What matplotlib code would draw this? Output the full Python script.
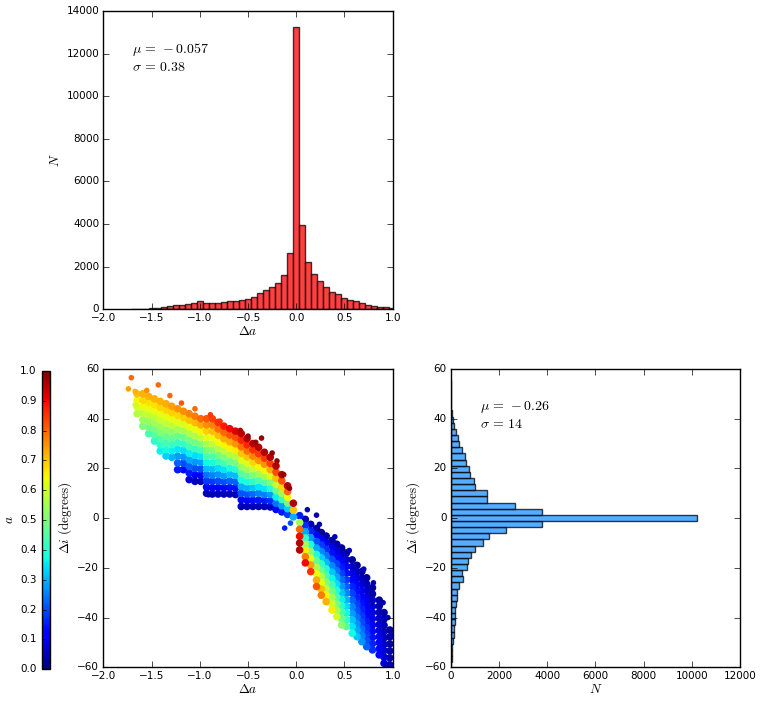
import matplotlib
matplotlib.use('Agg')
import matplotlib.pyplot as plt
import numpy as np

# histogram of delta a (counts per bin, left to right)
DA_LO = -1.715
DA_W = 0.0622
da_counts = [8, 16, 31, 62, 78, 125, 172, 187, 203, 234, 296, 374, 281, 312,
             312, 328, 374, 390, 452, 460, 580, 750, 890, 1031, 1219, 1594,
             2656, 13260, 3937, 2203, 1672, 1344, 1031, 812, 703, 516, 437,
             406, 312, 203, 172, 125, 109, 78, 55]

# histogram of delta i (counts per bin, bottom to top)
DI_LO = -60.43
DI_W = 2.47
di_counts = [14, 41, 69, 69, 97, 124, 138, 166, 166, 180, 221, 249, 276, 332,
             497, 456, 663, 705, 857, 995, 1327, 1603, 2280, 3773, 10200,
             3770, 2670, 1520, 1520, 1020, 950, 790, 760, 650, 590, 480, 360,
             290, 210, 150, 110, 50, 25, 12, 6, 3, 2]

# scatter, upper-left arm: one column per delta a value
ul_da = [-0.03, -0.09, -0.15, -0.21, -0.27, -0.33, -0.39, -0.45, -0.51, -0.57,
         -0.63, -0.69, -0.75, -0.81, -0.87, -0.93, -0.99, -1.05, -1.11, -1.17,
         -1.23, -1.29, -1.35, -1.41, -1.47, -1.53, -1.59, -1.65]
ul_di = [
    [0.5, 3.2, 6.0],
    [1.5, 3.8, 6.1, 8.4, 10.7, 13.0],
    [2.5, 5.0, 7.5, 10.0, 12.5, 15.0, 17.5],
    [3.5, 6.0, 8.5, 11.0, 13.5, 16.0, 18.5, 21.0],
    [4.5, 7.0, 9.5, 12.0, 14.5, 17.0, 19.5, 22.0, 24.5],
    [4.7, 7.1, 9.5, 12.0, 14.4, 16.8, 19.2, 21.7, 24.1, 26.5],
    [4.7, 7.3, 10.0, 12.6, 15.3, 17.9, 20.6, 23.2, 25.9, 28.5],
    [4.7, 7.2, 9.8, 12.3, 14.8, 17.4, 19.9, 22.4, 24.9, 27.5, 30.0],
    [4.7, 7.2, 9.7, 12.1, 14.6, 17.1, 19.6, 22.1, 24.6, 27.0, 29.5, 32.0],
    [4.7, 7.4, 10.0, 12.7, 15.4, 18.0, 20.7, 23.3, 26.0, 28.7, 31.3, 34.0],
    [9.5, 12.1, 14.6, 17.2, 19.7, 22.3, 24.8, 27.4, 29.9, 32.5, 35.0],
    [9.7, 12.3, 15.0, 17.6, 20.2, 22.9, 25.5, 28.1, 30.7, 33.4, 36.0],
    [9.7, 12.2, 14.7, 17.1, 19.6, 22.1, 24.6, 27.1, 29.6, 32.0, 34.5, 37.0],
    [9.7, 12.3, 14.9, 17.6, 20.2, 22.8, 25.4, 28.0, 30.6, 33.3, 35.9, 38.5],
    [9.7, 12.2, 14.8, 17.3, 19.8, 22.3, 24.9, 27.4, 29.9, 32.4, 34.9, 37.5, 40.0],
    [10.0, 12.5, 15.0, 17.5, 20.0, 22.5, 25.0, 27.5, 30.0, 32.5, 35.0, 37.5, 40.0],
    [14.8, 17.3, 19.8, 22.4, 24.9, 27.4, 29.9, 32.4, 35.0, 37.5, 40.0],
    [14.8, 17.4, 20.0, 22.7, 25.3, 27.9, 30.5, 33.1, 35.8, 38.4, 41.0],
    [15.5, 18.2, 20.8, 23.5, 26.1, 28.8, 31.4, 34.1, 36.7, 39.4, 42.0],
    [19.5, 22.1, 24.7, 27.3, 29.9, 32.6, 35.2, 37.8, 40.4, 43.0],
    [19.5, 22.2, 24.9, 27.7, 30.4, 33.1, 35.8, 38.6, 41.3, 44.0],
    [24.5, 27.1, 29.6, 32.2, 34.8, 37.3, 39.9, 42.4, 45.0],
    [25.0, 27.6, 30.3, 32.9, 35.5, 38.1, 40.8, 43.4, 46.0],
    [27.0, 29.5, 32.0, 34.5, 37.0, 39.5, 42.0, 44.5, 47.0],
    [31.0, 33.4, 35.9, 38.3, 40.7, 43.1, 45.6, 48.0],
    [34.0, 36.5, 39.0, 41.5, 44.0, 46.5, 49.0],
    [37.0, 39.6, 42.2, 44.8, 47.4, 50.0],
    [42.0, 44.7, 47.3, 50.0],
]
ul_a = [
    [0.3, 0.7, 0.95],
    [0.18, 0.33, 0.49, 0.64, 0.8, 0.95],
    [0.15, 0.28, 0.42, 0.55, 0.68, 0.82, 0.95],
    [0.12, 0.24, 0.36, 0.48, 0.59, 0.71, 0.83, 0.95],
    [0.06, 0.17, 0.28, 0.39, 0.5, 0.62, 0.73, 0.84, 0.95],
    [0.05, 0.15, 0.25, 0.35, 0.45, 0.55, 0.65, 0.75, 0.85, 0.95],
    [0.05, 0.15, 0.25, 0.35, 0.45, 0.55, 0.65, 0.75, 0.85, 0.95],
    [0.05, 0.14, 0.23, 0.32, 0.41, 0.5, 0.59, 0.68, 0.77, 0.86, 0.95],
    [0.05, 0.13, 0.21, 0.30, 0.38, 0.46, 0.54, 0.62, 0.70, 0.79, 0.87, 0.95],
    [0.05, 0.13, 0.21, 0.30, 0.38, 0.46, 0.54, 0.62, 0.70, 0.79, 0.87, 0.95],
    [0.05, 0.14, 0.22, 0.31, 0.4, 0.49, 0.57, 0.66, 0.75, 0.83, 0.92],
    [0.05, 0.14, 0.22, 0.31, 0.39, 0.48, 0.56, 0.65, 0.73, 0.82, 0.90],
    [0.05, 0.13, 0.2, 0.28, 0.35, 0.43, 0.5, 0.58, 0.65, 0.73, 0.80, 0.88],
    [0.05, 0.12, 0.2, 0.27, 0.34, 0.42, 0.49, 0.57, 0.64, 0.71, 0.79, 0.86],
    [0.05, 0.12, 0.18, 0.25, 0.31, 0.38, 0.44, 0.51, 0.58, 0.64, 0.71, 0.77, 0.84],
    [0.05, 0.11, 0.18, 0.24, 0.31, 0.37, 0.44, 0.5, 0.56, 0.63, 0.69, 0.76, 0.82],
    [0.05, 0.13, 0.2, 0.28, 0.35, 0.43, 0.5, 0.58, 0.65, 0.73, 0.80],
    [0.05, 0.12, 0.2, 0.27, 0.34, 0.42, 0.49, 0.56, 0.63, 0.71, 0.78],
    [0.08, 0.15, 0.22, 0.29, 0.36, 0.43, 0.49, 0.56, 0.63, 0.70, 0.77],
    [0.13, 0.2, 0.27, 0.34, 0.41, 0.48, 0.55, 0.62, 0.69, 0.76],
    [0.15, 0.22, 0.28, 0.35, 0.42, 0.48, 0.55, 0.62, 0.68, 0.75],
    [0.30, 0.36, 0.41, 0.47, 0.52, 0.58, 0.63, 0.69, 0.74],
    [0.33, 0.38, 0.43, 0.48, 0.53, 0.58, 0.63, 0.68, 0.73],
    [0.36, 0.41, 0.45, 0.5, 0.54, 0.59, 0.63, 0.68, 0.72],
    [0.4, 0.45, 0.49, 0.54, 0.58, 0.63, 0.67, 0.72],
    [0.44, 0.49, 0.53, 0.58, 0.63, 0.67, 0.72],
    [0.5, 0.54, 0.59, 0.63, 0.68, 0.72],
    [0.56, 0.61, 0.65, 0.70],
]

# scatter, lower-right arm: one column per delta a value
lr_da = [0.035, 0.094, 0.15, 0.21, 0.26, 0.31, 0.37, 0.42, 0.47, 0.52, 0.58,
         0.63, 0.68, 0.73, 0.79, 0.86, 0.91, 0.97]
lr_di = [
    [1.0, -1.8, -4.5, -7.3, -10.0, -12.8],
    [-0.5, -3.0, -5.5, -8.0, -10.5, -13.0, -15.5, -18.0],
    [-2.5, -5.2, -7.9, -10.6, -13.4, -16.1, -18.8, -21.5],
    [-4.2, -6.8, -9.4, -12.0, -14.6, -17.1, -19.7, -22.3, -24.9, -27.5],
    [-5.8, -8.3, -10.8, -13.4, -15.9, -18.4, -20.9, -23.4, -26.0, -28.5, -31.0],
    [-7.2, -9.8, -12.5, -15.1, -17.8, -20.4, -23.0, -25.7, -28.3, -31.0, -33.6],
    [-9.0, -11.5, -14.1, -16.6, -19.2, -21.7, -24.3, -26.8, -29.4, -31.9, -34.5, -37.0],
    [-10.5, -13.1, -15.8, -18.4, -21.1, -23.7, -26.4, -29.0, -31.7, -34.3, -37.0, -39.6],
    [-12.0, -14.6, -17.2, -19.8, -22.3, -24.9, -27.5, -30.1, -32.7, -35.2, -37.8, -40.4, -43.0],
    [-14.0, -16.7, -19.4, -22.1, -24.8, -27.5, -30.1, -32.8, -35.5, -38.2, -40.9, -43.6],
    [-16.8, -19.5, -22.2, -24.8, -27.5, -30.2, -32.9, -35.6, -38.3, -40.9, -43.6, -46.3],
    [-19.0, -21.6, -24.2, -26.8, -29.4, -32.0, -34.7, -37.3, -39.9, -42.5, -45.1, -47.7],
    [-21.5, -24.1, -26.6, -29.2, -31.8, -34.3, -36.9, -39.4, -42.0, -44.6, -47.1, -49.7],
    [-24.0, -26.5, -29.0, -31.6, -34.1, -36.6, -39.1, -41.6, -44.1, -46.7, -49.2, -51.7],
    [-28.0, -30.5, -33.0, -35.5, -38.0, -40.5, -43.0, -45.5, -48.0, -50.5, -53.0],
    [-33.0, -35.4, -37.9, -40.3, -42.8, -45.2, -47.7, -50.1, -52.6, -55.0],
    [-38.0, -40.6, -43.1, -45.7, -48.2, -50.8, -53.3, -55.9, -58.4],
    [-45.0, -47.8, -50.6, -53.4, -56.2, -59.0],
]
lr_a = [
    [0.15, 0.55, 0.8, 0.9, 0.95, 0.95],
    [0.05, 0.17, 0.29, 0.41, 0.54, 0.66, 0.78, 0.90],
    [0.04, 0.16, 0.27, 0.39, 0.51, 0.62, 0.74, 0.86],
    [0.03, 0.12, 0.21, 0.29, 0.38, 0.47, 0.56, 0.64, 0.73, 0.82],
    [0.03, 0.11, 0.18, 0.26, 0.33, 0.41, 0.48, 0.56, 0.63, 0.71, 0.78],
    [0.03, 0.10, 0.17, 0.24, 0.31, 0.38, 0.44, 0.51, 0.58, 0.65, 0.72],
    [0.03, 0.09, 0.14, 0.20, 0.26, 0.32, 0.37, 0.43, 0.49, 0.55, 0.60, 0.66],
    [0.03, 0.08, 0.13, 0.19, 0.24, 0.29, 0.34, 0.39, 0.44, 0.50, 0.55, 0.60],
    [0.03, 0.07, 0.11, 0.15, 0.19, 0.23, 0.27, 0.32, 0.36, 0.40, 0.44, 0.48, 0.52],
    [0.03, 0.07, 0.11, 0.14, 0.18, 0.22, 0.26, 0.30, 0.34, 0.37, 0.41, 0.45],
    [0.03, 0.06, 0.09, 0.13, 0.16, 0.19, 0.22, 0.25, 0.28, 0.32, 0.35, 0.38],
    [0.03, 0.06, 0.08, 0.11, 0.14, 0.16, 0.19, 0.21, 0.24, 0.27, 0.29, 0.32],
    [0.03, 0.05, 0.07, 0.10, 0.12, 0.14, 0.16, 0.18, 0.20, 0.23, 0.25, 0.27],
    [0.03, 0.05, 0.06, 0.08, 0.10, 0.12, 0.13, 0.15, 0.17, 0.19, 0.20, 0.22],
    [0.03, 0.04, 0.06, 0.07, 0.09, 0.10, 0.11, 0.13, 0.14, 0.16, 0.17],
    [0.03, 0.04, 0.05, 0.06, 0.07, 0.08, 0.09, 0.10, 0.11, 0.12],
    [0.03, 0.04, 0.04, 0.05, 0.05, 0.06, 0.07, 0.07, 0.08],
    [0.02, 0.03, 0.03, 0.04, 0.04, 0.05],
]

# scattered points outside the dense bands
out_da = [-1.71, -1.74, -1.67, -1.55, -1.43, -1.31, -1.19, -1.62, -1.67, -1.05,
          -0.89, -0.79, -0.58, -0.50, -0.36, -0.25, -0.42, -0.20, -0.13, -0.07,
          -1.21, -0.91, -0.12, -0.06, 0.115, 0.21, 0.24, 0.40, 0.55, 0.70,
          0.80, 0.90, 0.95, 0.99, 0.93]
out_di = [56.5, 52.0, 51.0, 51.4, 53.6, 49.3, 46.3, 42.3, 45.6, 44.0,
          41.6, 39.0, 35.3, 33.0, 32.2, 26.2, 30.5, 23.0, 17.5, 12.0,
          19.5, 9.4, -4.0, -2.0, 3.4, 1.2, -2.5, -7.5, -13.0, -20.5,
          -26.0, -34.0, -40.0, -47.0, -59.5]
out_a = [0.8, 0.74, 0.72, 0.76, 0.8, 0.8, 0.82, 0.57, 0.6, 0.8,
         0.85, 0.86, 0.95, 0.98, 0.98, 0.98, 0.97, 0.98, 0.98, 0.98,
         0.15, 0.05, 0.15, 0.2, 0.05, 0.05, 0.05, 0.05, 0.05, 0.05,
         0.05, 0.05, 0.05, 0.05, 0.05]

TICK_SIZE = 7.5
LABEL_SIZE = 9.5
NOTE_SIZE = 10
BAND_SIZE = 30
DOT_SIZE = 16


def flatten(cols, dis, avals):
    xs, ys, cs = [], [], []
    for d, di, a in zip(cols, dis, avals, strict=True):
        if len(di) != len(a):
            raise ValueError('column %s mismatch' % d)
        xs += [d] * len(di)
        ys += di
        cs += a
    return xs, ys, cs


def style(ax):
    ax.tick_params(which='both', direction='in', top=True, right=True,
                   length=4, labelsize=TICK_SIZE, pad=3)


if __name__ == '__main__':
    plt.style.use('classic')
    plt.rcParams['font.family'] = 'DejaVu Sans'
    plt.rcParams['mathtext.fontset'] = 'cm'
    plt.rcParams['figure.facecolor'] = 'white'
    plt.rcParams['savefig.facecolor'] = 'white'

    fig = plt.figure(figsize=(7.63, 7.05), dpi=100)
    ax_top = fig.add_axes([0.1354, 0.5613, 0.3793, 0.4231])
    ax_sc = fig.add_axes([0.1354, 0.0535, 0.3793, 0.4231])
    ax_rh = fig.add_axes([0.5907, 0.0535, 0.3793, 0.4231])
    cax = fig.add_axes([0.0554, 0.0507, 0.0101, 0.4231])

    # top: delta a histogram
    da_edges = DA_LO + DA_W * np.arange(len(da_counts) + 1)
    da_mid = 0.5 * (da_edges[:-1] + da_edges[1:])
    ax_top.hist(da_mid, bins=da_edges, weights=da_counts, color='red',
                alpha=0.75, edgecolor='black', linewidth=1)
    ax_top.set_xlim(-2, 1)
    ax_top.set_ylim(0, 14000)
    ax_top.set_xticks(np.arange(-2, 1.01, 0.5))
    ax_top.set_yticks(np.arange(0, 14001, 2000))
    ax_top.set_xlabel(r'$\Delta a$', fontsize=LABEL_SIZE, labelpad=1)
    ax_top.set_ylabel(r'$N$', fontsize=LABEL_SIZE, labelpad=3)
    ax_top.text(0.1, 0.9, '$\\mu\\,=\\,-0.057$\n$\\sigma\\,=\\,0.38$',
                transform=ax_top.transAxes, va='top', fontsize=NOTE_SIZE)
    style(ax_top)

    # bottom left: scatter coloured by a
    x1, y1, c1 = flatten(ul_da, ul_di, ul_a)
    x2, y2, c2 = flatten(lr_da, lr_di, lr_a)
    xs = np.array(x1 + x2)
    ys = np.array(y1 + y2)
    cs = np.array(c1 + c2)
    order = np.argsort(cs, kind='stable')
    sc = ax_sc.scatter(xs[order], ys[order], c=cs[order], cmap='jet',
                       vmin=0, vmax=1, s=BAND_SIZE, edgecolors='none')
    ax_sc.scatter(out_da, out_di, c=out_a, cmap='jet', vmin=0, vmax=1,
                  s=DOT_SIZE, edgecolors='none')
    ax_sc.set_xlim(-2, 1)
    ax_sc.set_ylim(-60, 60)
    ax_sc.set_xticks(np.arange(-2, 1.01, 0.5))
    ax_sc.set_yticks(np.arange(-60, 61, 20))
    ax_sc.set_xlabel(r'$\Delta a$', fontsize=LABEL_SIZE, labelpad=1)
    ax_sc.set_ylabel(r'$\Delta i\ \mathrm{(degrees)}$', fontsize=LABEL_SIZE,
                     labelpad=2)
    style(ax_sc)

    cb = fig.colorbar(sc, cax=cax)
    cb.set_ticks(np.arange(0, 1.01, 0.1))
    cax.yaxis.set_ticks_position('left')
    cax.yaxis.set_label_position('left')
    cax.tick_params(labelsize=TICK_SIZE, direction='in', length=3)
    cb.set_label(r'$a$', fontsize=LABEL_SIZE, labelpad=3)
    cb.outline.set_linewidth(1)

    # bottom right: delta i histogram
    di_edges = DI_LO + DI_W * np.arange(len(di_counts) + 1)
    di_mid = 0.5 * (di_edges[:-1] + di_edges[1:])
    ax_rh.hist(di_mid, bins=di_edges, weights=di_counts,
               orientation='horizontal', color='dodgerblue', alpha=0.75,
               edgecolor='black', linewidth=1)
    ax_rh.set_xlim(0, 12000)
    ax_rh.set_ylim(-60, 60)
    ax_rh.set_xticks(np.arange(0, 12001, 2000))
    ax_rh.set_yticks(np.arange(-60, 61, 20))
    ax_rh.set_xlabel(r'$N$', fontsize=LABEL_SIZE, labelpad=1)
    ax_rh.set_ylabel(r'$\Delta i\ \mathrm{(degrees)}$', fontsize=LABEL_SIZE,
                     labelpad=2)
    ax_rh.text(0.1, 0.9, '$\\mu\\,=\\,-0.26$\n$\\sigma\\,=\\,14$',
               transform=ax_rh.transAxes, va='top', fontsize=NOTE_SIZE)
    style(ax_rh)

    fig.savefig('out.png', dpi=100)
